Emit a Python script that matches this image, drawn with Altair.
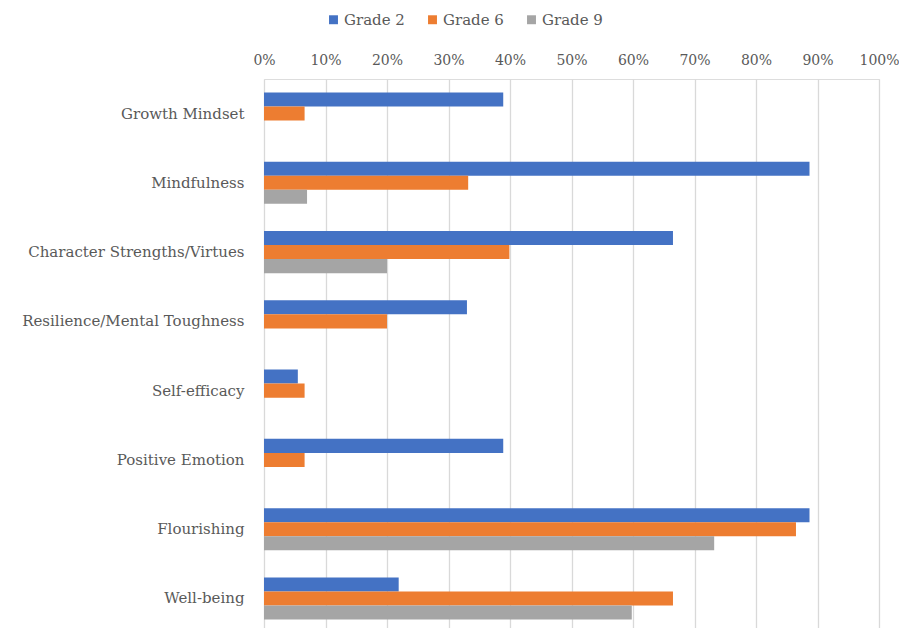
import altair as alt
import pandas as pd

categories = ["Growth Mindset", "Mindfulness", "Character Strengths/Virtues",
              "Resilience/Mental Toughness", "Self-efficacy", "Positive Emotion",
              "Flourishing", "Well-being"]
grades = ["Grade 2", "Grade 6", "Grade 9"]
colors = ["#4472C4", "#ED7D31", "#A5A5A5"]

grade2 = [0.389, 0.887, 0.665, 0.330, 0.055, 0.389, 0.887, 0.219]
grade6 = [0.066, 0.332, 0.399, 0.200, 0.066, 0.066, 0.865, 0.665]
grade9 = [None, 0.070, 0.200, None, None, None, 0.732, 0.598]

rows = []
for g, vals in zip(grades, [grade2, grade6, grade9]):
    for c, v in zip(categories, vals):
        if v is not None:
            rows.append({"category": c, "grade": g, "value": v})
df = pd.DataFrame(rows)

font = "DejaVu Serif"
text_color = "#595959"

chart = alt.Chart(df).mark_bar().encode(
    y=alt.Y("category:N", sort=categories, title=None,
            scale=alt.Scale(paddingInner=0.393, paddingOuter=0.196),
            axis=alt.Axis(domain=False, ticks=False, labelPadding=20, labelLimit=400,
                          labelFont=font, labelFontSize=15, labelColor=text_color)),
    yOffset=alt.YOffset("grade:N", sort=grades,
                        scale=alt.Scale(domain=grades, paddingInner=0, paddingOuter=0)),
    x=alt.X("value:Q", title=None,
            scale=alt.Scale(domain=[0, 1], nice=False),
            axis=alt.Axis(orient="top", format="%", values=[i / 10 for i in range(11)],
                          domain=False, ticks=False, labelPadding=12, labelFlush=False,
                          labelFont=font, labelFontSize=14, labelColor=text_color,
                          grid=True, gridColor="#d9d9d9", gridWidth=1.3)),
    color=alt.Color("grade:N", sort=grades,
                    scale=alt.Scale(domain=grades, range=colors),
                    legend=alt.Legend(title=None, orient="none", direction="horizontal",
                                      legendX=62, legendY=-67,
                                      symbolType="square", symbolSize=80,
                                      symbolStrokeWidth=0,
                                      labelFont=font, labelFontSize=15,
                                      labelColor=text_color, columnPadding=20,
                                      symbolOffset=0, labelOffset=3)),
).properties(
    width=615, height=554,
    autosize=alt.AutoSizeParams(type="none"),
    padding={"left": 264, "top": 79, "right": 20, "bottom": 0},
).configure_view(stroke=None).configure(background="white")

chart.save("out.html", embed_options={"renderer": "svg", "actions": False})
